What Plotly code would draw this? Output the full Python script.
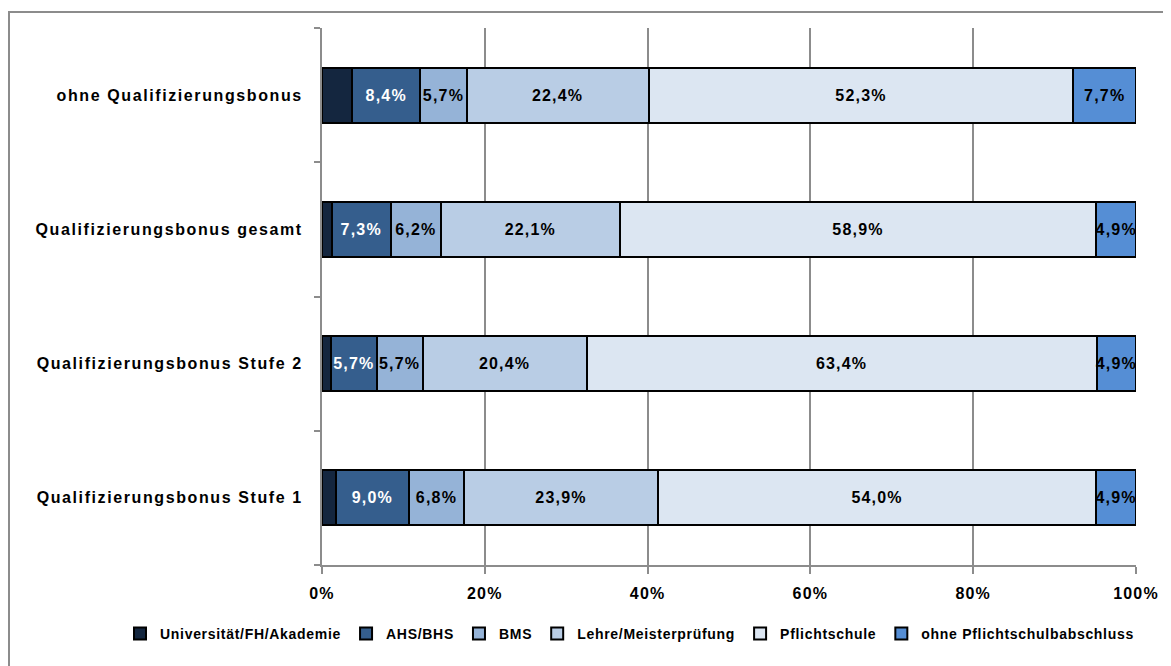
import plotly.graph_objects as go

categories = ["Qualifizierungsbonus Stufe 1", "Qualifizierungsbonus Stufe 2",
              "Qualifizierungsbonus gesamt", "ohne Qualifizierungsbonus"]
series_names = ["Universität/FH/Akademie", "AHS/BHS", "BMS", "Lehre/Meisterprüfung",
                "Pflichtschule", "ohne Pflichtschulbabschluss"]
univ = [1.7, 1.1, 1.2, 3.7]
ahs = [9.0, 5.7, 7.3, 8.4]
bms = [6.8, 5.7, 6.2, 5.7]
lehre = [23.9, 20.4, 22.1, 22.4]
pflicht = [54.0, 63.4, 58.9, 52.3]
ohne = [4.9, 4.9, 4.9, 7.7]
show_labels = [False, True, True, True, True, True]
x_ticks = [0, 20, 40, 60, 80, 100]

colors = ["#14263F", "#355E8D", "#95B3D7", "#B9CDE5", "#DCE6F2", "#558ED5"]
text_colors = ["white", "white", "black", "black", "black", "black"]

FONT = "Liberation Sans, Arial, sans-serif"
FS = 16


def sp(s, ls="1.2px"):
    return f'<span style="letter-spacing:{ls}">{s}</span>'


# page body has an 8px margin: figure origin is at (8, 8) of the window
W, H = 1163, 658
L, R, T, B = 314, 35, 20, 101
PW, PH = W - L - R, H - T - B

fig = go.Figure()
for name, vals, col, tcol, show in zip(series_names, [univ, ahs, bms, lehre, pflicht, ohne],
                                       colors, text_colors, show_labels):
    txt = [sp(f"{v:.1f}".replace(".", ",") + "%") if show else "" for v in vals]
    fig.add_trace(go.Bar(
        name=sp(name, "0.7px"), y=categories, x=vals, orientation="h",
        marker=dict(color=col, line=dict(color="black", width=2)),
        text=txt, textposition="inside", insidetextanchor="middle", textangle=0,
        constraintext="none", cliponaxis=False,
        textfont=dict(family=FONT, size=FS, color=tcol, weight="bold"),
        hoverinfo="skip",
    ))

fig.update_layout(
    barmode="stack", barnorm="percent", bargap=0.59,
    width=W, height=H,
    margin=dict(l=L, r=R, t=T, b=B, autoexpand=False),
    paper_bgcolor="white", plot_bgcolor="white",
    font=dict(family=FONT, size=FS, color="black", weight="bold"),
    uniformtext=dict(minsize=FS, mode="show"),
    showlegend=True,
    legend=dict(orientation="h", xref="paper", x=(112 - L) / PW, xanchor="left",
                yref="paper", y=-69 / PH, yanchor="middle",
                font=dict(family=FONT, size=14, color="black", weight="bold"),
                itemwidth=30, traceorder="normal", tracegroupgap=0),
    xaxis=dict(range=[0, 100], tickvals=x_ticks, ticktext=[sp(f"{t}%") for t in x_ticks],
               showgrid=True, gridcolor="#8C8C8C", gridwidth=2,
               showline=True, linecolor="#8C8C8C", linewidth=2,
               ticks="outside", ticklen=7, tickwidth=2, tickcolor="#8C8C8C",
               ticklabelstandoff=6,
               tickfont=dict(family=FONT, size=FS, color="black", weight="bold"),
               zeroline=False, fixedrange=True),
    yaxis=dict(categoryorder="array", categoryarray=categories,
               tickvals=categories, ticktext=[sp(c, "1.6px") for c in categories],
               showline=True, linecolor="#8C8C8C", linewidth=2,
               ticks="outside", ticklen=6, tickwidth=2, tickcolor="#8C8C8C",
               tickson="boundaries", ticklabelstandoff=14,
               tickfont=dict(family=FONT, size=FS, color="black", weight="bold"),
               showgrid=False, fixedrange=True),
)

# outer chart-area border (page x=9, y=12)
fig.add_shape(type="rect", xref="paper", yref="paper",
              x0=(1 - L) / PW, x1=(W + 20 - L) / PW,
              y0=-(B + 20) / PH, y1=(PH + T - 4) / PH,
              line=dict(color="#8C8C8C", width=2), fillcolor="rgba(0,0,0,0)", layer="below")

fig.write_html("out.html")
